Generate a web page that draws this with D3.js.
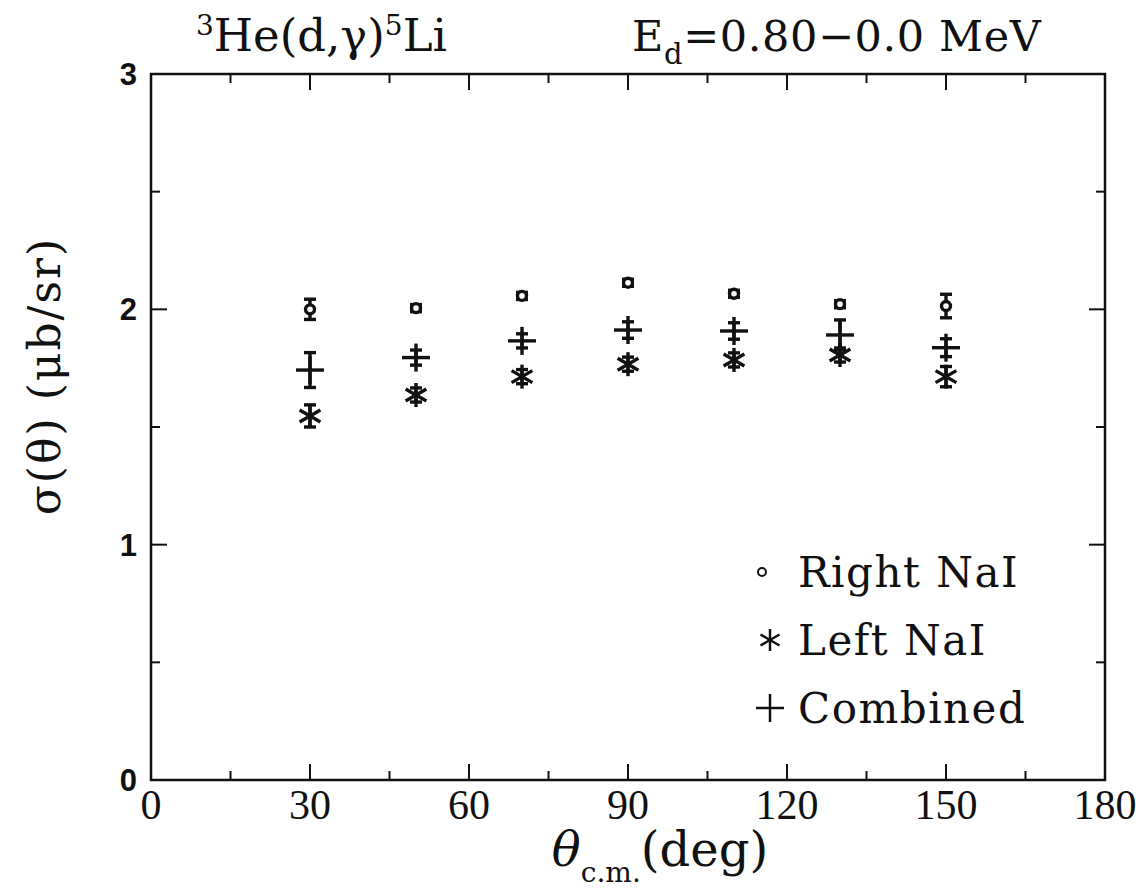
<!DOCTYPE html>
<html>
<head>
<meta charset="utf-8">
<script src="https://cdn.jsdelivr.net/npm/d3@7/dist/d3.min.js"></script>
<style>
  body { margin: 0; background: #fff; }
  svg text { fill: #111; }
</style>
</head>
<body>
<script>
// angles in deg (c.m.), cross sections in microbarn/sr
const angles = [30, 50, 70, 90, 110, 130, 150];
const rightVals = [2.000, 2.005, 2.057, 2.113, 2.066, 2.022, 2.014];
const rightErr  = [0.043, 0.015, 0.015, 0.015, 0.015, 0.015, 0.050];
const leftVals  = [1.547, 1.636, 1.714, 1.767, 1.785, 1.806, 1.714];
const leftErr   = [0.047, 0.030, 0.030, 0.030, 0.030, 0.030, 0.043];
const combVals  = [1.742, 1.795, 1.866, 1.912, 1.908, 1.891, 1.837];
const combErr   = [0.074, 0.032, 0.030, 0.035, 0.035, 0.064, 0.038];

const xTicks = [0, 30, 60, 90, 120, 150, 180];
const yTicks = [0, 1, 2, 3];
const legendLabels = ["Right NaI", "Left NaI", "Combined"];

const W = 1144, H = 895;
const margin = {top: 74, right: 39, bottom: 115, left: 151};
const width = W - margin.left - margin.right,
      height = H - margin.top - margin.bottom;

const x = d3.scaleLinear().domain([0, 180]).range([0, width]);
const y = d3.scaleLinear().domain([0, 3]).range([height, 0]);

const svg = d3.select("body").append("svg")
    .attr("width", W)
    .attr("height", H);

const g = svg.append("g")
    .attr("transform", `translate(${margin.left}, ${margin.top})`);

// frame
g.append("rect")
    .attr("width", width).attr("height", height)
    .attr("fill", "none").attr("stroke", "#111").attr("stroke-width", 2.5);

// ticks on all four sides, pointing in
const major = 16, minor = 9;
const xt = d3.range(15, 180, 15);
const yt = d3.range(0.5, 3, 0.5);
const tickG = g.append("g").attr("stroke", "#111").attr("stroke-width", 2);
xt.forEach(v => {
  const len = v % 30 === 0 ? major : minor;
  tickG.append("line").attr("x1", x(v)).attr("x2", x(v)).attr("y1", height).attr("y2", height - len);
  tickG.append("line").attr("x1", x(v)).attr("x2", x(v)).attr("y1", 0).attr("y2", len);
});
yt.forEach(v => {
  const len = Number.isInteger(v) ? major : minor;
  tickG.append("line").attr("y1", y(v)).attr("y2", y(v)).attr("x1", 0).attr("x2", len);
  tickG.append("line").attr("y1", y(v)).attr("y2", y(v)).attr("x1", width).attr("x2", width - len);
});

// tick labels
g.append("g").selectAll("text")
  .data(xTicks).join("text")
    .attr("x", d => x(d)).attr("y", height + 39)
    .attr("text-anchor", "middle")
    .style("font-family", "'Liberation Serif'")
    .style("font-size", "42px")
    .text(d => d);

g.append("g").selectAll("text")
  .data(yTicks).join("text")
    .attr("x", -14).attr("y", d => y(d) + 11)
    .attr("text-anchor", "end")
    .style("font-family", "'Liberation Sans', Arial")
    .style("font-weight", "bold")
    .style("font-size", "31px")
    .text(d => d);

// axis titles
const xl = svg.append("text")
    .attr("x", 660).attr("y", 866)
    .attr("text-anchor", "middle")
    .style("font-family", "'DejaVu Serif'")
    .style("font-size", "48px");
xl.append("tspan").style("font-style", "italic").text("θ");
xl.append("tspan").attr("dy", 16).style("font-size", "28px").text("c.m.");
xl.append("tspan").attr("dy", -16).text("(deg)");

svg.append("text")
    .attr("transform", "translate(60, 376) rotate(-90)")
    .attr("text-anchor", "middle")
    .style("font-family", "'DejaVu Serif'")
    .style("font-size", "44px")
    .style("letter-spacing", "2px")
    .text("σ(θ) (μb/sr)");

// title
const t1 = svg.append("text")
    .attr("x", 196).attr("y", 51)
    .style("font-family", "'DejaVu Serif'")
    .style("font-size", "45px");
t1.append("tspan").attr("dy", -16).style("font-size", "28px").text("3");
t1.append("tspan").attr("dy", 16).text("He(d,γ)");
t1.append("tspan").attr("dy", -16).style("font-size", "28px").text("5");
t1.append("tspan").attr("dy", 16).text("Li");

const t2 = svg.append("text")
    .attr("x", 632).attr("y", 51)
    .style("font-family", "'DejaVu Serif'")
    .style("font-size", "43px")
    .style("letter-spacing", "0.6px");
t2.append("tspan").text("E");
t2.append("tspan").attr("dy", 13).style("font-size", "29px").text("d");
t2.append("tspan").attr("dy", -13).text("=0.80−0.0 MeV");

// marker drawing helpers
const ink = "#111";
function errBar(sel, cx, v, e, cap) {
  sel.append("line").attr("x1", cx).attr("x2", cx).attr("y1", y(v - e)).attr("y2", y(v + e));
  sel.append("line").attr("x1", cx - cap).attr("x2", cx + cap).attr("y1", y(v - e)).attr("y2", y(v - e));
  sel.append("line").attr("x1", cx - cap).attr("x2", cx + cap).attr("y1", y(v + e)).attr("y2", y(v + e));
}
function star(sel, cx, cy, r) {
  [90, 30, -30].forEach(a => {
    const dx = r * Math.cos(a * Math.PI / 180), dy = r * Math.sin(a * Math.PI / 180);
    sel.append("line").attr("x1", cx - dx).attr("x2", cx + dx).attr("y1", cy - dy).attr("y2", cy + dy);
  });
}
function plus(sel, cx, cy, r) {
  sel.append("line").attr("x1", cx - r).attr("x2", cx + r).attr("y1", cy).attr("y2", cy);
  sel.append("line").attr("x1", cx).attr("x2", cx).attr("y1", cy - r).attr("y2", cy + r);
}

const marks = g.append("g").attr("stroke", ink).attr("stroke-width", 3.4).attr("fill", "none");

// right NaI: open circles
angles.forEach((a, i) => {
  const m = marks.append("g");
  errBar(m, x(a), rightVals[i], rightErr[i], 6);
  m.append("circle").attr("cx", x(a)).attr("cy", y(rightVals[i])).attr("r", 4.5).attr("fill", "#fff");
});
// left NaI: asterisks
angles.forEach((a, i) => {
  const m = marks.append("g");
  errBar(m, x(a), leftVals[i], leftErr[i], 6);
  star(m, x(a), y(leftVals[i]), 12);
});
// combined: plus
angles.forEach((a, i) => {
  const m = marks.append("g");
  errBar(m, x(a), combVals[i], combErr[i], 6);
  plus(m, x(a), y(combVals[i]), 14);
});

// legend
const lg = svg.append("g");
const lx = 770, ly = [572, 640, 708];
lg.append("circle").attr("cx", lx - 8).attr("cy", ly[0]).attr("r", 4)
  .attr("fill", "none").attr("stroke", ink).attr("stroke-width", 2);
star(lg.append("g").attr("stroke", ink).attr("stroke-width", 2.5), lx, ly[1], 11);
plus(lg.append("g").attr("stroke", ink).attr("stroke-width", 2.5), lx, ly[2], 14);
lg.selectAll("text").data(legendLabels).join("text")
    .attr("x", 798).attr("y", (d, i) => ly[i] + 15)
    .style("font-family", "'DejaVu Serif'")
    .style("font-size", "42px")
    .style("letter-spacing", "1.5px")
    .text(d => d);
</script>
</body>
</html>
